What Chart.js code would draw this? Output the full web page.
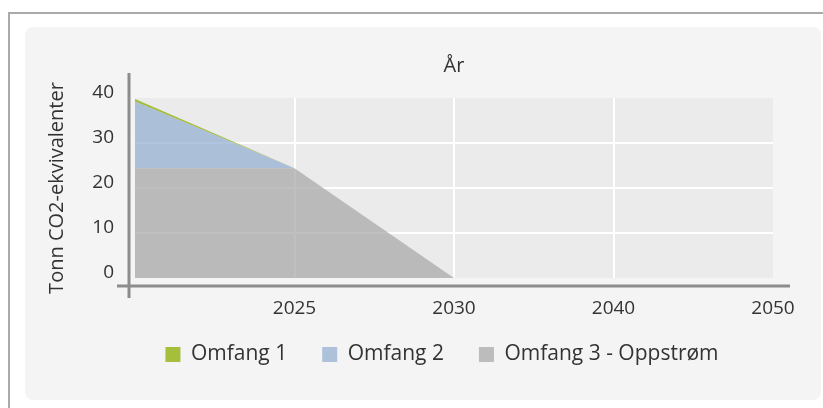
<!DOCTYPE html>
<html>
<head>
<meta charset="utf-8">
<script src="https://cdn.jsdelivr.net/npm/chart.js@4.4.1/dist/chart.umd.min.js"></script>
<style>
  body { margin: 0; background: #fff; width: 823px; height: 408px; overflow: hidden; position: relative; font-family: "Open Sans", sans-serif; }
  .frame { position: absolute; left: 8px; top: 12px; width: 830px; height: 410px; border-left: 2px solid #aaa; border-top: 2px solid #aaa; }
  .panel { position: absolute; left: 25px; top: 27px; width: 796px; height: 373px; background: #f4f4f4; border-radius: 8px; }
  #chart { position: absolute; left: 0; top: 0; }
</style>
</head>
<body>
<div class="frame"></div>
<div class="panel"></div>
<canvas id="chart" width="823" height="408"></canvas>
<script>
// years on the x axis (first one has no label in the picture)
const categories = ['', '2025', '2030', '2040', '2050'];
// tonn CO2-ekv per scope
const omfang1 = [0.6, 0, 0, 0, 0];
const omfang2 = [14.8, 0, 0, 0, 0];
const omfang3 = [24.4, 24.4, 0, 0, 0];
const yTicks = [0, 10, 20, 30, 40];

const FONT = 'Open Sans';

// grey plot background
const plotBg = {
  id: 'plotBg',
  beforeDraw(chart) {
    const a = chart.chartArea, ctx = chart.ctx;
    ctx.save();
    ctx.fillStyle = '#ebebeb';
    ctx.fillRect(a.left, a.top, a.right - a.left, a.bottom - a.top);
    ctx.restore();
  }
};

// the offset axis lines
const axisLines = {
  id: 'axisLines',
  afterDraw(chart) {
    const a = chart.chartArea, ctx = chart.ctx;
    ctx.save();
    ctx.strokeStyle = '#8c8c8c';
    ctx.lineWidth = 3;
    ctx.beginPath();
    ctx.moveTo(a.left - 6, a.top - 25);
    ctx.lineTo(a.left - 6, a.bottom + 20);
    ctx.moveTo(a.left - 18, a.bottom + 8);
    ctx.lineTo(a.right + 17, a.bottom + 8);
    ctx.stroke();
    ctx.restore();
  }
};

// legend sits a bit right of centre and a little higher
const legendShift = {
  id: 'legendShift',
  afterLayout(chart) {
    const lg = chart.legend;
    lg.left += 34;
    lg.right += 34;
    lg.top -= 8;
    lg.bottom -= 8;
  }
};

// no white line on the outer edges of the plot
function innerGrid(last) {
  return ctx => (ctx.index === 0 || ctx.index === last) ? 'rgba(0,0,0,0)' : '#ffffff';
}

new Chart(document.getElementById('chart'), {
  type: 'line',
  data: {
    labels: categories,
    datasets: [
      { label: 'Omfang 3 - Oppstrøm', data: omfang3, backgroundColor: 'rgba(170,170,170,0.75)', fill: 'origin' },
      { label: 'Omfang 2', data: omfang2, backgroundColor: 'rgba(150,178,210,0.75)', fill: '-1' },
      { label: 'Omfang 1', data: omfang1, backgroundColor: 'rgba(160,188,50,0.95)', fill: '-1' }
    ]
  },
  options: {
    responsive: false,
    animation: false,
    elements: {
      line: { borderWidth: 0, tension: 0 },
      point: { radius: 0, hoverRadius: 0 }
    },
    layout: { padding: { left: 43, right: 50, top: 0, bottom: 25 } },
    plugins: {
      tooltip: { enabled: false },
      legend: {
        position: 'bottom',
        reverse: true,
        labels: {
          boxWidth: 15,
          boxHeight: 15,
          padding: 35,
          color: '#333',
          font: { family: FONT, size: 21 }
        }
      }
    },
    scales: {
      x: {
        position: 'bottom',
        grid: { color: innerGrid(categories.length - 1), lineWidth: 2, drawTicks: false },
        border: { display: false },
        ticks: { color: '#333', font: { family: FONT, size: 19 }, padding: 19, maxRotation: 0, autoSkip: false },
        afterFit(s) { s.height = 39; }
      },
      x2: {
        type: 'category',
        labels: categories,
        position: 'top',
        grid: { display: false },
        border: { display: false },
        ticks: { display: false },
        title: { display: true, text: 'År', color: '#333', font: { family: FONT, size: 20 }, padding: { top: 54, bottom: 0 } },
        afterFit(s) { s.height = 98; }
      },
      y: {
        stacked: true,
        min: 0,
        max: 40,
        afterBuildTicks(s) { s.ticks = yTicks.map(v => ({ value: v })); },
        grid: { color: innerGrid(yTicks.length - 1), lineWidth: 2, drawTicks: false },
        border: { display: false },
        ticks: { color: '#333', font: { family: FONT, size: 19 }, padding: 21, labelOffset: -5 },
        title: { display: true, text: 'Tonn CO2-ekvivalenter', color: '#333', font: { family: FONT, size: 20 }, padding: { top: 2, bottom: 2 } },
        afterFit(s) { s.width = 92; }
      }
    }
  },
  plugins: [plotBg, axisLines, legendShift]
});
</script>
</body>
</html>
